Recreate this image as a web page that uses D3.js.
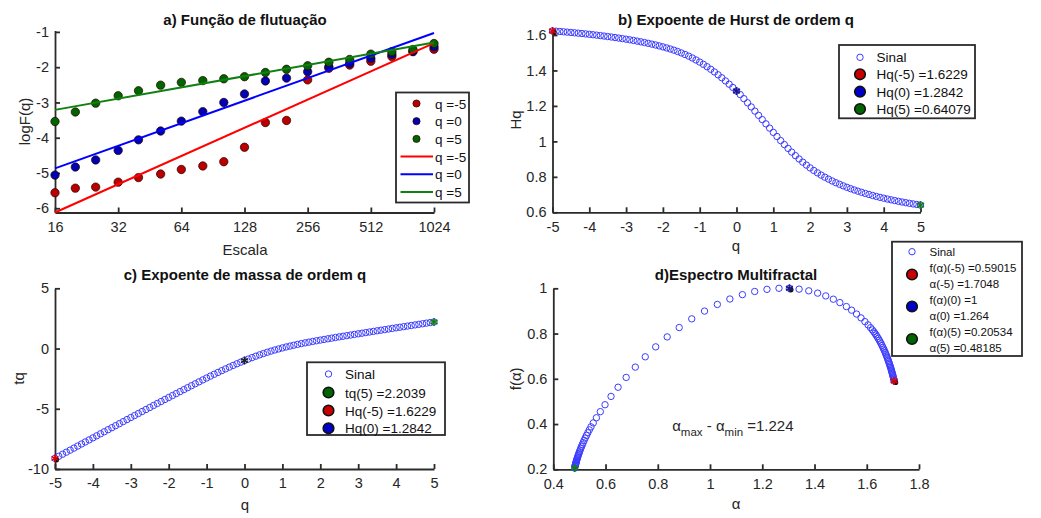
<!DOCTYPE html>
<html lang="pt">
<head>
<meta charset="utf-8">
<title>MFDFA</title>
<script src="https://d3js.org/d3.v7.min.js"></script>
<style>
  body { margin: 0; background: #fff; }
  svg { font-family: "Liberation Sans", Arial, sans-serif; }
  .tick text { font-size: 14.5px; fill: #262626; }
  .tick line, .domain { stroke: #2b2b2b; stroke-width: 1.8px; }
  .ttl { font-size: 15px; font-weight: bold; fill: #111; text-anchor: middle; }
  .lbl { font-size: 15px; fill: #262626; text-anchor: middle; }
  .leg text { font-size: 13.5px; fill: #111; }
  .legd text { font-size: 11.5px; fill: #111; }
</style>
</head>
<body>
<div id="chart"></div>
<script>

// a) fluctuation function: scales and log F(q)
var escala = [16, 20, 25, 32, 40, 51, 64, 81, 102, 128, 161, 203, 256, 323, 406, 512, 645, 813, 1024];
var fqm5 = [-5.56, -5.43, -5.40, -5.26, -5.13, -5.03, -4.90, -4.80, -4.68, -4.27, -3.57, -3.51, -2.36, -2.03, -1.94, -1.83, -1.70, -1.56, -1.49];
var fq0  = [-5.06, -4.83, -4.63, -4.36, -4.06, -3.81, -3.53, -3.26, -3.00, -2.76, -2.39, -2.31, -2.13, -1.99, -1.89, -1.75, -1.64, -1.55, -1.42];
var fq5  = [-3.54, -3.27, -3.02, -2.81, -2.67, -2.51, -2.43, -2.38, -2.33, -2.27, -2.15, -2.06, -1.96, -1.86, -1.78, -1.63, -1.56, -1.50, -1.33];
// fitted lines (ends at 16 and 1024)
var ajusteEsc = [16, 1024];
var ajm5 = [-6.12, -1.32];
var aj0  = [-4.87, -1.03];
var aj5  = [-3.21, -1.30];

// q grid and the multifractal quantities
var qv = [-5,-4.9,-4.8,-4.7,-4.6,-4.5,-4.4,-4.3,-4.2,-4.1,-4,-3.9,-3.8,-3.7,-3.6,-3.5,-3.4,-3.3,-3.2,-3.1,
  -3,-2.9,-2.8,-2.7,-2.6,-2.5,-2.4,-2.3,-2.2,-2.1,-2,-1.9,-1.8,-1.7,-1.6,-1.5,-1.4,-1.3,-1.2,-1.1,
  -1,-0.9,-0.8,-0.7,-0.6,-0.5,-0.4,-0.3,-0.2,-0.1,0,0.1,0.2,0.3,0.4,0.5,0.6,0.7,0.8,0.9,
  1,1.1,1.2,1.3,1.4,1.5,1.6,1.7,1.8,1.9,2,2.1,2.2,2.3,2.4,2.5,2.6,2.7,2.8,2.9,
  3,3.1,3.2,3.3,3.4,3.5,3.6,3.7,3.8,3.9,4,4.1,4.2,4.3,4.4,4.5,4.6,4.7,4.8,4.9,5];

var hq = [1.6229,1.6214,1.6197,1.6180,1.6161,1.6142,1.6123,1.6103,1.6082,1.6060,
  1.6038,1.6015,1.5991,1.5966,1.5940,1.5913,1.5886,1.5857,1.5827,1.5795,
  1.5763,1.5728,1.5693,1.5655,1.5616,1.5574,1.5531,1.5485,1.5437,1.5385,
  1.5331,1.5273,1.5210,1.5143,1.5069,1.4989,1.4902,1.4806,1.4703,1.4591,
  1.4472,1.4346,1.4211,1.4067,1.3917,1.3756,1.3588,1.3410,1.3225,1.3040,
  1.2842,
  1.2640,1.2410,1.2177,1.1943,1.1706,1.1468,1.1229,1.0988,1.0747,1.0508,
  1.0273,1.0043,0.9820,0.9604,0.9395,0.9196,0.9007,0.8829,0.8662,0.8505,
  0.8359,0.8224,0.8097,0.7980,0.7870,0.7766,0.7669,0.7578,0.7491,0.7410,
  0.7333,0.7260,0.7192,0.7126,0.7064,0.7005,0.6948,0.6895,0.6844,0.6795,
  0.6748,0.6703,0.6661,0.6620,0.6580,0.6543,0.6507,0.6472,0.6439,0.6408];

var tq = [-9.1145,-8.9451,-8.7747,-8.6044,-8.4342,-8.2641,-8.0941,-7.9242,-7.7544,-7.5847,
  -7.4152,-7.2458,-7.0766,-6.9075,-6.7385,-6.5697,-6.4012,-6.2327,-6.0645,-5.8965,
  -5.7288,-5.5612,-5.3939,-5.2269,-5.0601,-4.8936,-4.7274,-4.5616,-4.3961,-4.2309,
  -4.0661,-3.9018,-3.7378,-3.5743,-3.4111,-3.2484,-3.0863,-2.9248,-2.7643,-2.6050,
  -2.4472,-2.2911,-2.1369,-1.9847,-1.8350,-1.6878,-1.5435,-1.4023,-1.2645,-1.1304,
  -1.0000,
  -0.8736,-0.7518,-0.6347,-0.5223,-0.4147,-0.3119,-0.2140,-0.1210,-0.0328,0.0508,
  0.1300,0.2052,0.2766,0.3445,0.4093,0.4714,0.5312,0.5892,0.6457,0.7010,
  0.7554,0.8092,0.8624,0.9151,0.9674,1.0192,1.0706,1.1217,1.1725,1.2230,
  1.2733,1.3233,1.3732,1.4228,1.4723,1.5217,1.5709,1.6200,1.6690,1.7179,
  1.7667,1.8154,1.8641,1.9127,1.9612,2.0097,2.0582,2.1066,2.1549,2.2039];

var alfa = [1.7048,1.7039,1.7031,1.7021,1.7012,1.7001,1.6990,1.6979,1.6966,1.6953,
  1.6940,1.6925,1.6910,1.6894,1.6877,1.6860,1.6841,1.6821,1.6800,1.6778,
  1.6755,1.6730,1.6704,1.6677,1.6648,1.6617,1.6585,1.6551,1.6516,1.6478,
  1.6438,1.6396,1.6355,1.6315,1.6270,1.6215,1.6145,1.6050,1.5930,1.5780,
  1.5610,1.5420,1.5220,1.4970,1.4720,1.4430,1.4120,1.3780,1.3410,1.3040,
  1.2640,
  1.2180,1.1710,1.1240,1.0760,1.0280,0.9790,0.9300,0.8820,0.8360,0.7920,
  0.7520,0.7140,0.6790,0.6480,0.6210,0.5980,0.5800,0.5650,0.5530,0.5443,
  0.5379,0.5322,0.5270,0.5223,0.5181,0.5143,0.5109,0.5079,0.5051,0.5026,
  0.5004,0.4984,0.4966,0.4950,0.4935,0.4922,0.4910,0.4899,0.4890,0.4881,
  0.4873,0.4866,0.4860,0.4854,0.4849,0.4844,0.4840,0.4837,0.4833,0.4819];

var falfa = [0.5902,0.5960,0.5998,0.6045,0.6087,0.6136,0.6185,0.6232,0.6287,0.6340,
  0.6392,0.6450,0.6508,0.6567,0.6628,0.6687,0.6753,0.6818,0.6885,0.6953,
  0.7023,0.7095,0.7168,0.7241,0.7316,0.7393,0.7470,0.7549,0.7626,0.7705,
  0.7785,0.7866,0.7939,0.8007,0.8079,0.8161,0.8260,0.8383,0.8527,0.8692,
  0.8862,0.9033,0.9193,0.9368,0.9518,0.9663,0.9787,0.9889,0.9963,1.0000,
  1.0000,
  0.9954,0.9860,0.9719,0.9527,0.9287,0.8993,0.8650,0.8266,0.7852,0.7412,
  0.6972,0.6516,0.6061,0.5627,0.5222,0.4854,0.4548,0.4278,0.4050,0.3876,
  0.3742,0.3616,0.3497,0.3384,0.3279,0.3180,0.3088,0.3004,0.2923,0.2848,
  0.2779,0.2716,0.2656,0.2602,0.2550,0.2502,0.2458,0.2416,0.2381,0.2345,
  0.2312,0.2283,0.2257,0.2231,0.2209,0.2185,0.2166,0.2152,0.2133,0.2053];

// ticks
var ticksEsc = [16, 32, 64, 128, 256, 512, 1024];
var ticksFq = [-6, -5, -4, -3, -2, -1];
var ticksQ = [-5, -4, -3, -2, -1, 0, 1, 2, 3, 4, 5];
var ticksHq = [0.6, 0.8, 1, 1.2, 1.4, 1.6];
var ticksTq = [-10, -5, 0, 5];
var ticksAlfa = [0.4, 0.6, 0.8, 1, 1.2, 1.4, 1.6, 1.8];
var ticksF = [0.2, 0.4, 0.6, 0.8, 1];

var cores = { red: "#b80000", blue: "#0000b0", green: "#006400",
              lred: "#ff0000", lblue: "#0000ff", lgreen: "#108010", sinal: "#3c3cff" };

var svg = d3.select("#chart").append("svg")
  .attr("width", 1041).attr("height", 518);
svg.append("rect").attr("width", 1041).attr("height", 518).attr("fill", "#fff");

var fmt = function(d) { return String(d); };

function eixos(x, y, xt, yt) {
  svg.append("g").attr("transform", "translate(0," + y.range()[0] + ")")
    .call(d3.axisBottom(x).tickValues(xt).tickFormat(fmt).tickSize(-5).tickSizeOuter(0).tickPadding(9));
  svg.append("g").attr("transform", "translate(" + x.range()[0] + ",0)")
    .call(d3.axisLeft(y).tickValues(yt).tickFormat(fmt).tickSize(-5).tickSizeOuter(0).tickPadding(6));
}

function titulo(txt, x, y) {
  svg.append("text").attr("class", "ttl").attr("x", x).attr("y", y).text(txt);
}
function rotulo(txt, x, y, rot) {
  var t = svg.append("text").attr("class", "lbl").text(txt);
  if (rot) t.attr("transform", "translate(" + x + "," + y + ") rotate(-90)");
  else t.attr("x", x).attr("y", y);
}

function aneis(x, y, xs, ys) {
  svg.append("g").selectAll("circle").data(xs).enter().append("circle")
    .attr("cx", function(d) { return x(d); })
    .attr("cy", function(d, i) { return y(ys[i]); })
    .attr("r", 3.2)
    .attr("fill", "none")
    .attr("stroke", cores.sinal)
    .attr("stroke-width", 1);
}

function estrela(px, py, cor, comPreto) {
  if (comPreto) {
    svg.append("circle").attr("cx", px + 1.5).attr("cy", py + 1.5).attr("r", 2.6).attr("fill", "#111");
  }
  svg.append("path").attr("transform", "translate(" + px + "," + py + ")")
    .attr("d", d3.symbol(d3.symbolAsterisk, 45)())
    .attr("fill", "none").attr("stroke", cor).attr("stroke-width", 1.6);
}

function caixa(x0, y0, x1, y1) {
  svg.append("rect").attr("x", x0).attr("y", y0).attr("width", x1 - x0).attr("height", y1 - y0)
    .attr("fill", "#fff").attr("stroke", "#2b2b2b").attr("stroke-width", 1.8);
}

// ---------- a) Função de flutuação ----------
var xA = d3.scaleLog().base(2).domain([16, 1024]).range([55, 434]);
var yA = d3.scaleLinear().domain([-6.12, -0.96]).range([212.5, 30.5]);
eixos(xA, yA, ticksEsc, ticksFq);

var seriesA = [[fqm5, cores.red], [fq0, cores.blue], [fq5, cores.green]];
seriesA.forEach(function(s) {
  svg.append("g").selectAll("circle").data(escala).enter().append("circle")
    .attr("cx", function(d) { return xA(d); })
    .attr("cy", function(d, i) { return yA(s[0][i]); })
    .attr("r", 4.2)
    .attr("fill", s[1])
    .attr("stroke", "#2a0000").attr("stroke-width", 0.7);
});
var linhasA = [[ajm5, cores.lred], [aj0, cores.lblue], [aj5, cores.lgreen]];
var lineA = d3.line().x(function(d) { return xA(d[0]); }).y(function(d) { return yA(d[1]); });
linhasA.forEach(function(s) {
  svg.append("path")
    .datum(ajusteEsc.map(function(e, i) { return [e, s[0][i]]; }))
    .attr("d", lineA).attr("fill", "none").attr("stroke", s[1]).attr("stroke-width", 2);
});

titulo("a) Função de flutuação", 245, 25);
rotulo("Escala", 245, 255);
rotulo("logF(q)", 30, 121.5, true);

// legend a
caixa(396, 92.5, 469, 202.5);
var legA = svg.append("g").attr("class", "leg");
var itensA = [
  { t: "dot", c: cores.red, s: "q =-5" }, { t: "dot", c: cores.blue, s: "q =0" }, { t: "dot", c: cores.green, s: "q =5" },
  { t: "line", c: cores.lred, s: "q =-5" }, { t: "line", c: cores.lblue, s: "q =0" }, { t: "line", c: cores.lgreen, s: "q =5" }
];
itensA.forEach(function(it, i) {
  var yy = 103.5 + i * 17.7;
  if (it.t === "dot") {
    legA.append("circle").attr("cx", 416.5).attr("cy", yy).attr("r", 3.6)
      .attr("fill", it.c).attr("stroke", "#2a0000").attr("stroke-width", 0.7);
  } else {
    legA.append("line").attr("x1", 400.5).attr("x2", 433).attr("y1", yy).attr("y2", yy)
      .attr("stroke", it.c).attr("stroke-width", 2);
  }
  legA.append("text").attr("x", 435).attr("y", yy + 5).text(it.s);
});

// ---------- b) Expoente de Hurst ----------
var xB = d3.scaleLinear().domain([-5, 5]).range([552.5, 920.5]);
var yB = d3.scaleLinear().domain([0.6, 1.64]).range([212.3, 27.9]);
eixos(xB, yB, ticksQ, ticksHq);
aneis(xB, yB, qv, hq);
estrela(xB(qv[0]), yB(hq[0]), "#e00000", true);
estrela(xB(qv[50]), yB(hq[50]), "#1a1a80", false);
estrela(xB(qv[100]), yB(hq[100]), "#108010", false);
titulo("b) Expoente de Hurst de ordem q", 736, 25);
rotulo("q", 736, 251);
rotulo("Hq", 521, 120, true);

function legenda(x0, y0, x1, y1, mx, tx, linhas, cls) {
  caixa(x0, y0, x1, y1);
  var g = svg.append("g").attr("class", cls);
  linhas.forEach(function(it) {
    if (it.c === null) {
      g.append("circle").attr("cx", mx).attr("cy", it.my).attr("r", 3.2)
        .attr("fill", "none").attr("stroke", cores.sinal).attr("stroke-width", 1);
    } else if (it.c) {
      g.append("circle").attr("cx", mx).attr("cy", it.my).attr("r", 5.3)
        .attr("fill", it.c).attr("stroke", "#111").attr("stroke-width", 1.6);
    }
    it.txt.forEach(function(s, k) {
      g.append("text").attr("x", tx).attr("y", it.ty[k]).text(s);
    });
  });
}

legenda(839, 45, 975, 118.3, 860, 876.5, [
  { c: null, my: 57.3, txt: ["Sinal"], ty: [62] },
  { c: "#c80000", my: 74.3, txt: ["Hq(-5) =1.6229"], ty: [79] },
  { c: "#0000c8", my: 91.7, txt: ["Hq(0) =1.2842"], ty: [96.5] },
  { c: "#006400", my: 109, txt: ["Hq(5) =0.64079"], ty: [114] }
], "leg");

// ---------- c) Expoente de massa ----------
var xC = d3.scaleLinear().domain([-5, 5]).range([55, 434]);
var yC = d3.scaleLinear().domain([-10, 5]).range([469, 288.3]);
eixos(xC, yC, ticksQ, ticksTq);
aneis(xC, yC, qv, tq);
estrela(xC(qv[0]), yC(tq[0]), "#e00000", true);
estrela(xC(qv[50]), yC(tq[50]), "#222", false);
estrela(xC(qv[100]), yC(tq[100]), "#108010", false);
titulo("c) Expoente de massa de ordem q", 245, 280);
rotulo("q", 245, 510);
rotulo("tq", 24, 378.5, true);

legenda(307, 362.3, 445, 435, 328.5, 345, [
  { c: null, my: 374, txt: ["Sinal"], ty: [379] },
  { c: "#006400", my: 392.5, txt: ["tq(5) =2.2039"], ty: [397.5] },
  { c: "#c80000", my: 410.5, txt: ["Hq(-5) =1.6229"], ty: [415.5] },
  { c: "#0000c8", my: 428.3, txt: ["Hq(0) =1.2842"], ty: [433] }
], "leg");

// ---------- d) Espectro multifractal ----------
var xD = d3.scaleLinear().domain([0.4, 1.8]).range([553.3, 919]);
var yD = d3.scaleLinear().domain([0.2, 1]).range([469.3, 288.3]);
eixos(xD, yD, ticksAlfa, ticksF);
aneis(xD, yD, alfa, falfa);
estrela(xD(alfa[49]), yD(falfa[49]), "#1a1a80", true);
estrela(xD(alfa[0]), yD(falfa[0]), "#e00000", true);
estrela(xD(alfa[100]), yD(falfa[100]), "#108010", false);
titulo("d)Espectro Multifractal", 736, 280);
rotulo("α", 736, 509);
rotulo("f(α)", 521, 378.8, true);

var ann = svg.append("text").attr("x", xD(0.855)).attr("y", yD(0.37))
  .attr("font-size", 15).attr("fill", "#262626");
ann.append("tspan").text("α");
ann.append("tspan").attr("dy", 5).attr("font-size", 11.5).text("max");
ann.append("tspan").attr("dy", -5).text(" - α");
ann.append("tspan").attr("dy", 5).attr("font-size", 11.5).text("min");
ann.append("tspan").attr("dy", -5).text(" =1.224");

legenda(892, 241.7, 1022, 356, 912, 929.5, [
  { c: null, my: 251.7, txt: ["Sinal"], ty: [256] },
  { c: "#c80000", my: 274.5, txt: ["f(α)(-5) =0.59015", "α(-5) =1.7048"], ty: [271.5, 287.5] },
  { c: "#0000c8", my: 306.5, txt: ["f(α)(0) =1", "α(0) =1.264"], ty: [303.5, 319.5] },
  { c: "#006400", my: 339, txt: ["f(α)(5) =0.20534", "α(5) =0.48185"], ty: [336, 352] }
], "legd");

</script>
</body>
</html>
